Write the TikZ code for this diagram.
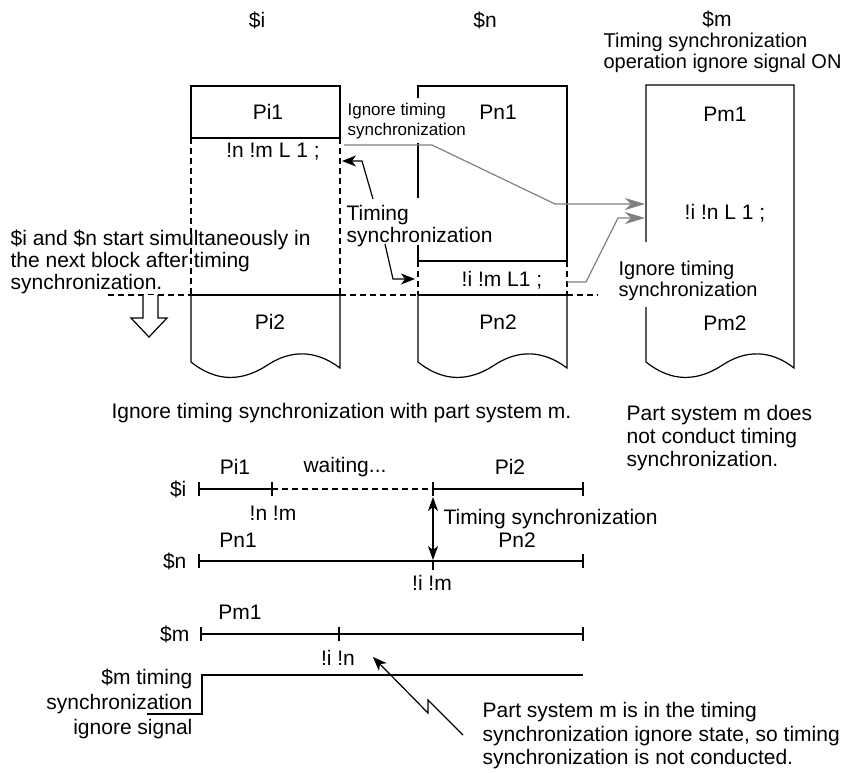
\documentclass[tikz,border=0pt]{standalone}
\usepackage{fontspec}
\setmainfont{Liberation Sans}
\usepackage{tikz}
\usetikzlibrary{arrows.meta}
\definecolor{ignoregray}{RGB}{128, 128, 128}

\tikzset{
  lbl/.style={inner sep=0pt, font=\fontsize{21}{22}\selectfont},
  lblsmall/.style={inner sep=0pt, font=\fontsize{17}{20}\selectfont},
  tight/.style={font=\fontsize{20}{21}\selectfont},
  wait/.style={dash pattern=on 6pt off 4pt},
  ignore/.style={ignoregray, -{Stealth[length=20pt, width=12pt, inset=6pt]}},
  sync/.style={-{Stealth[length=14pt, width=11pt, inset=4pt]}},
}

\begin{document}
\begin{tikzpicture}[x=1pt, y=-1pt, line width=1.2]

  \useasboundingbox (0, 0) rectangle (862, 773);

  % part systems
  \node[lbl] (hi) at (257, 20) {\$i};
  \node[lbl] (hn) at (485, 20) {\$n};
  \node[lbl] (hm) at (717, 19) {\$m};
  \node[lbl, tight, anchor=north west, align=left] (mon) at (603, 32) {Timing synchronization\\operation ignore signal ON};

  % program of $i
  \draw (191, 86) rectangle (340, 138);
  \draw[wait] (191, 138) -- (191, 295);
  \draw[wait] (340, 138) -- (340, 295);

  % program of $n
  \draw (418, 245) -- (418, 261);
  \draw (418, 143) -- (418, 198);
  \draw (418, 98) -- (418, 86) -- (567, 86) -- (567, 261) -- (418, 261);
  \draw[wait] (418, 261) -- (418, 295);
  \draw[wait] (567, 261) -- (567, 295);

  \foreach \xl in {191, 418} {
    \draw[shift={(\xl, 0)}] (0, 295) -- (0, 362) .. controls (20, 378) and (45, 385) .. (75, 366)
      .. controls (100, 349) and (125, 350) .. (149, 368) -- (149, 295);
  }

  % program of $m
  \draw (646, 242) -- (646, 85) -- (794, 85) -- (794, 368)
    .. controls (771, 350) and (746, 349) .. (721, 366)
    .. controls (691, 385) and (666, 378) .. (646, 362) -- (646, 307);

  % block start line
  \draw[wait] (108, 295) -- (191, 295);
  \draw (191, 295) -- (340, 295);
  \draw[wait] (340, 295) -- (418, 295);
  \draw (418, 295) -- (567, 295);
  \draw[wait] (567, 295) -- (598, 295);
  \draw[fill=white] (143, 295) -- (143, 318) -- (131, 318) -- (149, 337) -- (167, 318) -- (158, 318) -- (158, 295);

  \node[lbl] (pi1) at (268, 112) {Pi1};
  \node[lbl] (pn1) at (498, 112) {Pn1};
  \node[lbl] (pm1) at (725, 114) {Pm1};
  \node[lbl] (pi2) at (270, 322) {Pi2};
  \node[lbl] (pn2) at (498, 322) {Pn2};
  \node[lbl] (pm2) at (725, 323) {Pm2};
  \node[lbl] (ci) at (273, 152) {!n !m L 1 ;};
  \node[lbl] (cn) at (502, 280) {!i !m L1 ;};
  \node[lbl] (cm) at (725, 213) {!i !n L 1 ;};

  \node[lblsmall, anchor=north west, align=left] (ign1) at (347, 103) {Ignore timing\\synchronization};
  \node[lbl, tight, anchor=north west, align=left] (ign2) at (618, 260) {Ignore timing\\synchronization};
  \node[lbl, anchor=north west, align=left] (tsync) at (346, 205) {Timing\\synchronization};
  \node[lbl, anchor=north west, align=left] (start) at (10, 229) {\$i and \$n start simultaneously in\\the next block after timing\\synchronization.};

  % ignored waits
  \coordinate (g1s) at (344, 145);
  \coordinate (g1a) at (432, 145);
  \coordinate (g1b) at (555, 204);
  \coordinate (g1e) at (645, 204);
  \draw[ignore] (g1s) -- (g1a) -- (g1b) -- (g1e);
  \coordinate (g2s) at (567, 282);
  \coordinate (g2a) at (586, 282);
  \coordinate (g2b) at (618, 218);
  \coordinate (g2e) at (645, 218);
  \draw[ignore] (g2s) -- (g2a) -- (g2b) -- (g2e);

  % synchronization
  \coordinate (s1s) at (373, 199);
  \coordinate (s1a) at (362, 161);
  \coordinate (s1e) at (342, 161);
  \draw[sync] (s1s) -- (s1a) -- (s1e);
  \coordinate (s2s) at (385, 244);
  \coordinate (s2a) at (393, 279);
  \coordinate (s2e) at (415, 279);
  \draw[sync] (s2s) -- (s2a) -- (s2e);

  \node[lbl, anchor=east] (ignm) at (572, 413) {Ignore timing synchronization with part system m.};
  \node[lbl, anchor=north west, align=left, font=\fontsize{21}{23}\selectfont] (mnot) at (626, 405) {Part system m does\\not conduct timing\\synchronization.};

  % time chart
  \coordinate (ia) at (199, 489);
  \coordinate (ib) at (272, 489);
  \coordinate (ic) at (433, 489);
  \coordinate (id) at (583, 489);
  \draw (ia) -- (ib);
  \draw[wait] (ib) -- (ic);
  \draw (ic) -- (id);
  \foreach \tx in {199, 272, 433, 583} \draw (\tx, 482) -- (\tx, 496);
  \node[lbl, anchor=east] (li) at (187, 489) {\$i};
  \node[lbl] (ti1) at (235, 467) {Pi1};
  \node[lbl] (tw) at (345, 467) {waiting...};
  \node[lbl] (ti2) at (510, 467) {Pi2};
  \node[lbl] (tci) at (273, 513) {!n !m};

  \coordinate (na) at (199, 561);
  \coordinate (nc) at (433, 561);
  \coordinate (nd) at (583, 561);
  \draw (na) -- (nd);
  \draw (199, 554) -- (199, 568);
  \draw (433, 561) -- (433, 570);
  \draw (583, 554) -- (583, 568);
  \node[lbl, anchor=east] (ln) at (187, 561) {\$n};
  \node[lbl] (tn1) at (238, 540) {Pn1};
  \node[lbl] (tn2) at (517, 540) {Pn2};
  \node[lbl] (tcn) at (432, 583) {!i !m};

  \coordinate (sa) at (433, 497);
  \coordinate (sb) at (433, 560);
  \draw[{Stealth[length=14pt, width=10pt, inset=4pt]}-{Stealth[length=14pt, width=10pt, inset=4pt]}] (sa) -- (sb);
  \node[lbl, anchor=west] (tts) at (443, 519) {Timing synchronization};

  \coordinate (ma) at (201, 634);
  \coordinate (md) at (583, 634);
  \draw (ma) -- (md);
  \foreach \tx in {201, 339, 583} \draw (\tx, 627) -- (\tx, 641);
  \node[lbl, anchor=east] (lm) at (190, 634) {\$m};
  \node[lbl] (tm1) at (240, 612) {Pm1};
  \node[lbl] (tcm) at (338, 658) {!i !n};

  % ignore signal
  \coordinate (qa) at (147, 714);
  \coordinate (qb) at (202, 714);
  \coordinate (qc) at (202, 675);
  \coordinate (qd) at (583, 675);
  \draw (qa) -- (qb) -- (qc) -- (qd);
  \node[lbl, anchor=north east, align=right, font=\fontsize{21}{25}\selectfont] (lsig) at (193, 668) {\$m timing\\synchronization\\ignore signal};

  \coordinate (za) at (463, 735);
  \coordinate (zb) at (428, 700);
  \coordinate (zc) at (428, 713);
  \coordinate (ze) at (373, 657);
  \draw[sync] (za) -- (zb) -- (zc) -- (ze);
  \node[lbl, anchor=north west, align=left, font=\fontsize{21}{23.5}\selectfont] (notc) at (482, 702) {Part system m is in the timing\\synchronization ignore state, so timing\\synchronization is not conducted.};

\end{tikzpicture}
\end{document}
